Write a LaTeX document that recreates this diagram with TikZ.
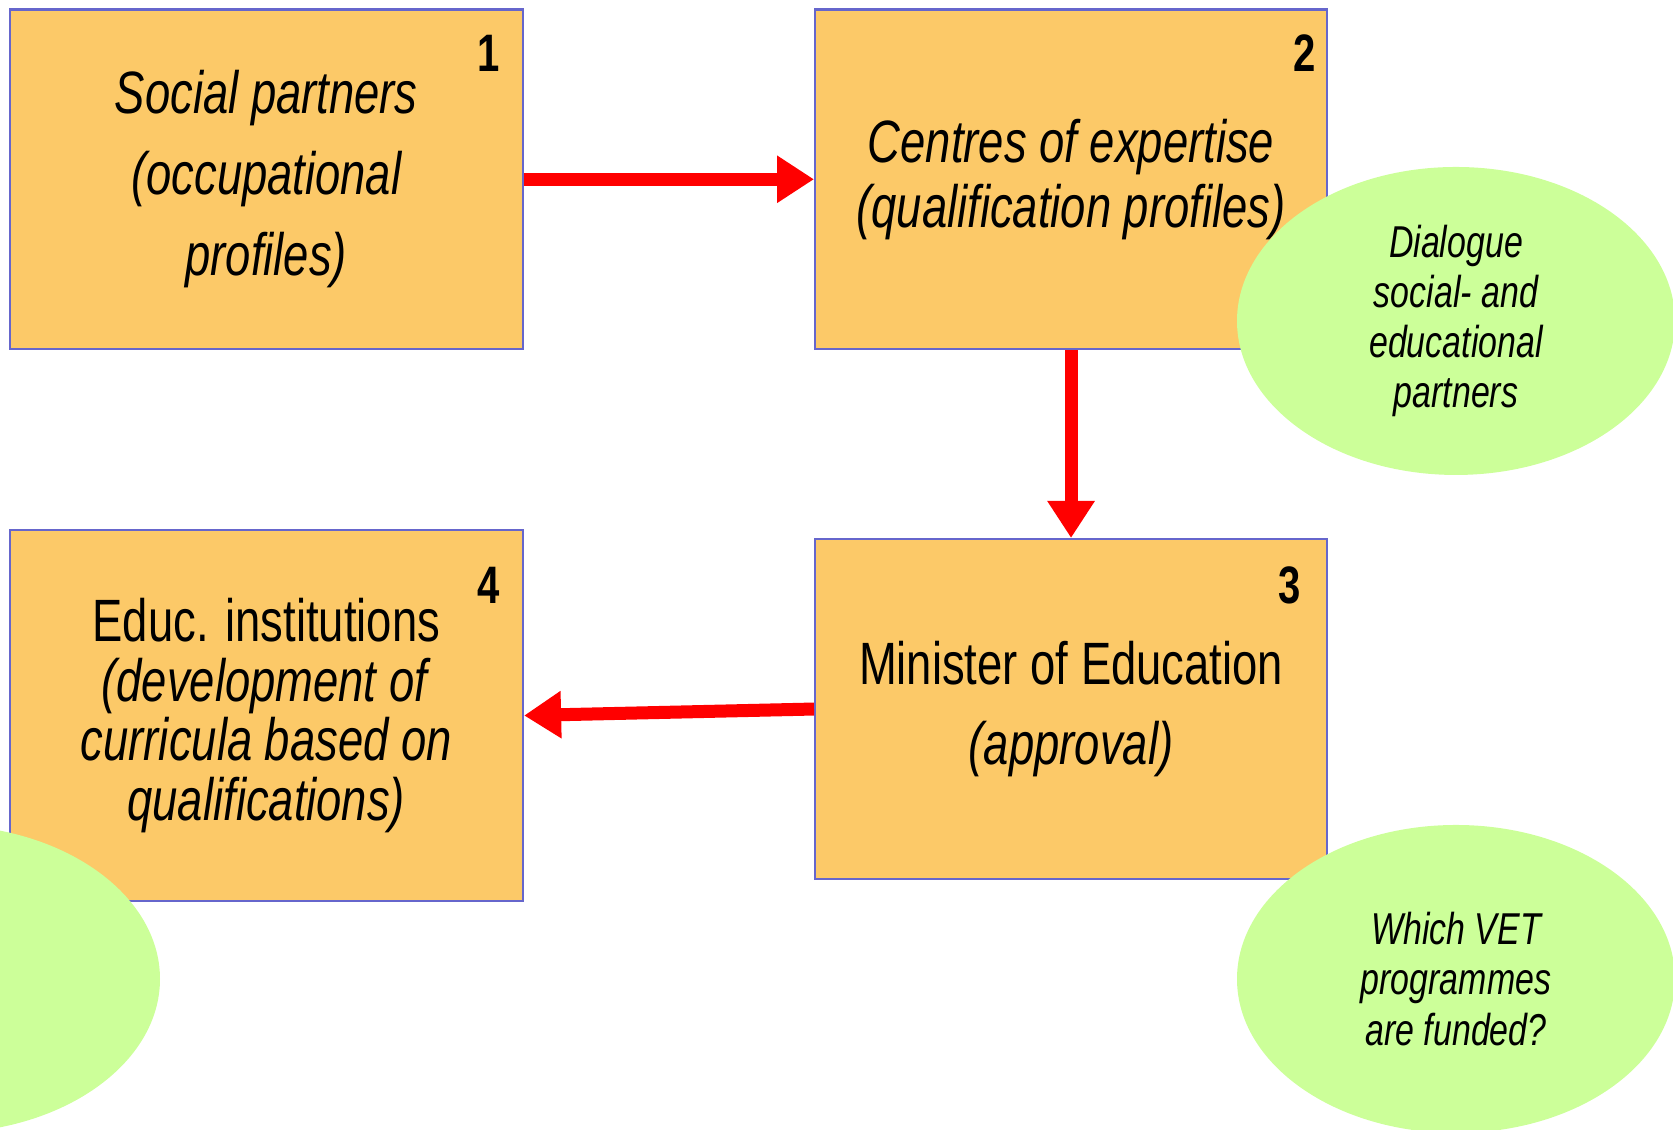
\documentclass[tikz,border=0pt]{standalone}
\usepackage{fontspec}
\setmainfont{Liberation Sans}[FakeStretch=0.76]
\usepackage{xcolor}
\usetikzlibrary{arrows.meta,shapes.geometric}

\definecolor{boxfill}{RGB}{252,201,104}
\definecolor{boxline}{RGB}{102,102,204}
\definecolor{blobfill}{RGB}{204,255,153}
\definecolor{flowred}{RGB}{255,0,0}

\tikzset{
  box/.style={draw=boxline, fill=boxfill, line width=0.6pt, anchor=north west,
    align=center, inner sep=0pt},
  blob/.style={ellipse, fill=blobfill, align=center, inner sep=0pt,
    minimum width=4.38cm, minimum height=3.08cm,
    font=\fontsize{12.7}{14.3}\selectfont\itshape},
  num/.style={font=\fontsize{15}{15}\selectfont\bfseries},
  flow/.style={draw=flowred, line width=3.7pt,
    -{Triangle[length=0.37cm, width=0.45cm]}}
}

\begin{document}
\begin{tikzpicture}

\useasboundingbox (0,0) rectangle (16.73,11.3);
\clip (0,0) rectangle (16.73,11.3);

% Riquadri
\node[box, minimum width=5.135cm, minimum height=3.395cm,
  font=\fontsize{17}{23}\selectfont\itshape] (social) at (0.085,11.215)
  {Social partners\\(occupational\\profiles)};
\node[box, minimum width=5.12cm, minimum height=3.395cm,
  font=\fontsize{17}{18.5}\selectfont\itshape] (centres) at (8.14,11.215)
  {Centres of expertise\\(qualification profiles)};
\node[box, minimum width=5.12cm, minimum height=3.40cm,
  font=\fontsize{17}{23}\selectfont] (minister) at (8.14,5.92)
  {Minister of Education\\\textit{(approval)}};
\node[box, minimum width=5.135cm, minimum height=3.71cm,
  font=\fontsize{17}{17}\selectfont] (educ) at (0.085,6.01)
  {Educ. institutions\\\textit{(development of}\\\textit{curricula based on}\\\textit{qualifications)}};

% Numeri
\node[num] (n1) at (4.89,10.77) {1};
\node[num] (n2) at (13.05,10.77) {2};
\node[num] (n3) at (12.90,5.45) {3};
\node[num] (n4) at (4.89,5.45) {4};

% Frecce
\draw[flow] (social.east) -- (centres.west);
\draw[flow] (centres.south) -- (minister.north);
\draw[flow] (minister.west) -- (educ.east);

% Ellissi
\node[blob] (dialogue) at (14.56,8.09)
  {Dialogue\\social- and\\educational\\partners};
\node[blob] (funding) at (14.56,1.51)
  {Which VET\\programmes\\are funded?};
\node[blob] (blank) at (-0.59,1.51) {};

\end{tikzpicture}
\end{document}
